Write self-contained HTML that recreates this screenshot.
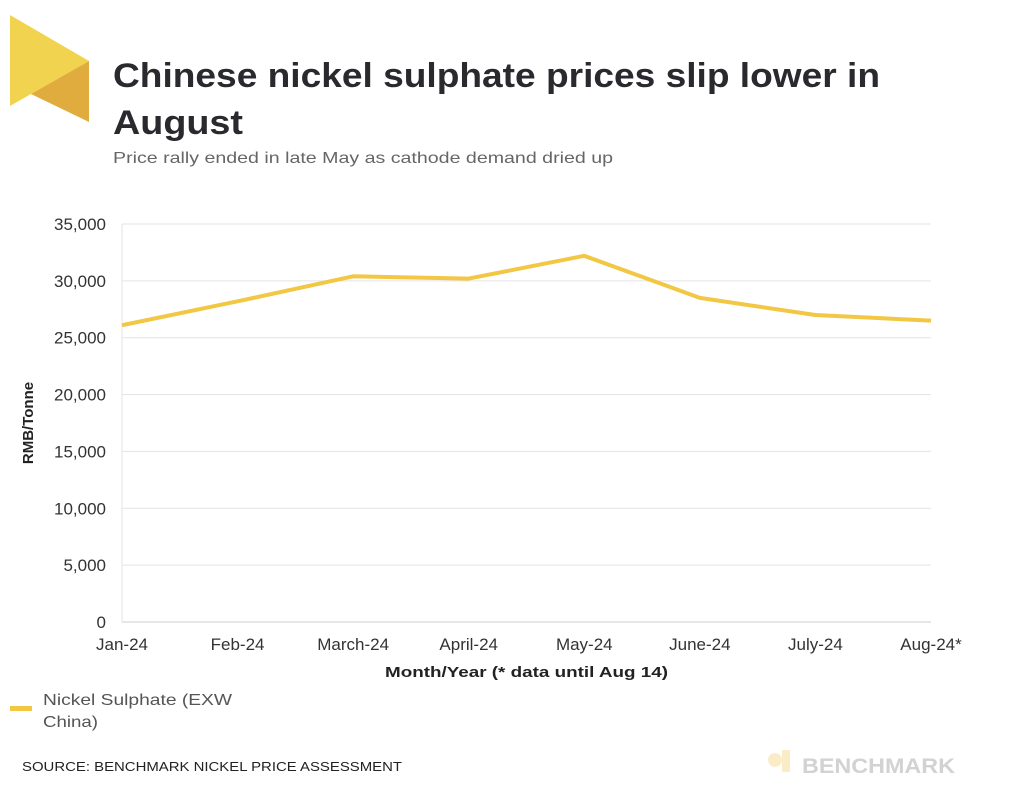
<!DOCTYPE html>
<html><head><meta charset="utf-8"><style>
body{margin:0;background:#fff;width:1024px;height:804px;overflow:hidden;font-family:"Liberation Sans",sans-serif;}
</style></head><body>
<svg width="1024" height="804">
<g>
<polygon points="10,15 89,61 10,106" fill="#f2d34f"/>
<polygon points="31,94 89,61 89,122" fill="#e0ac3e"/>
</g>
<text x="113" y="87" font-size="34" font-weight="bold" fill="#2a2a2e" textLength="767" lengthAdjust="spacingAndGlyphs">Chinese nickel sulphate prices slip lower in</text>
<text x="113" y="134" font-size="34" font-weight="bold" fill="#2a2a2e" textLength="130" lengthAdjust="spacingAndGlyphs">August</text>
<text x="113" y="163" font-size="16" fill="#666" textLength="500" lengthAdjust="spacingAndGlyphs">Price rally ended in late May as cathode demand dried up</text>
<g id="grid"></g>
<g id="yticks"></g>
<g id="xticks"></g>
<path id="line" fill="none" stroke="#f2c744" stroke-width="4" stroke-linejoin="round"/>
<text x="385" y="677" font-size="15" font-weight="bold" fill="#222" textLength="283" lengthAdjust="spacingAndGlyphs">Month/Year (* data until Aug 14)</text>
<text transform="translate(33,423) rotate(-90)" font-size="15" font-weight="bold" fill="#222" text-anchor="middle">RMB/Tonne</text>
<g>
<rect x="10" y="706" width="22" height="5" fill="#f2c744"/>
<text x="43" y="705" font-size="16" fill="#555" textLength="189" lengthAdjust="spacingAndGlyphs">Nickel Sulphate (EXW</text>
<text x="43" y="727" font-size="16" fill="#555" textLength="55" lengthAdjust="spacingAndGlyphs">China)</text>
</g>
<text x="22" y="771" font-size="13" fill="#222" textLength="380" lengthAdjust="spacingAndGlyphs">SOURCE: BENCHMARK NICKEL PRICE ASSESSMENT</text>
<g>
<circle cx="775" cy="760" r="7" fill="#fbecc8"/><rect x="782" y="750" width="8" height="22" fill="#fbecc8"/>
<text x="802" y="773" font-size="21" font-weight="bold" fill="#d2d2d2" textLength="153" lengthAdjust="spacingAndGlyphs">BENCHMARK</text>
</g>
</svg>
<script>
const categories=["Jan-24","Feb-24","March-24","April-24","May-24","June-24","July-24","Aug-24*"];
const values=[26100,28200,30400,30200,32200,28500,27000,26500];
const yTicks=[0,5000,10000,15000,20000,25000,30000,35000];
const x0=122,x1=931,yb=622,yt=224,ymax=35000;
const X=i=>x0+i*(x1-x0)/(categories.length-1);
const Y=v=>yb-v/ymax*(yb-yt);
const NS="http://www.w3.org/2000/svg";
const g=document.getElementById('grid'),yt_=document.getElementById('yticks'),xt=document.getElementById('xticks');
yTicks.forEach(v=>{
 const l=document.createElementNS(NS,'line');
 l.setAttribute('x1',x0);l.setAttribute('x2',x1);l.setAttribute('y1',Y(v));l.setAttribute('y2',Y(v));
 l.setAttribute('stroke',v===0?'#ccc':'#e3e3e3');
 
 
 g.appendChild(l);
 const t=document.createElementNS(NS,'text');
 t.setAttribute('x',106);t.setAttribute('y',Y(v)+6);t.setAttribute('text-anchor','end');
 t.setAttribute('font-size','17');t.setAttribute('fill','#333');
 t.textContent=v.toLocaleString('en-US');
 
 
 yt_.appendChild(t);
});
const v=document.createElementNS(NS,'line');
v.setAttribute('x1',x0);v.setAttribute('x2',x0);v.setAttribute('y1',yt);v.setAttribute('y2',yb);v.setAttribute('stroke','#e3e3e3');
g.appendChild(v);
categories.forEach((c,i)=>{
 const t=document.createElementNS(NS,'text');
 t.setAttribute('x',X(i));t.setAttribute('y',650);t.setAttribute('text-anchor','middle');
 t.setAttribute('font-size','17');t.setAttribute('fill','#333');
 t.textContent=c;
 
 
 xt.appendChild(t);
});
document.getElementById('line').setAttribute('d',values.map((v,i)=>(i?'L':'M')+X(i)+','+Y(v)).join(''));
</script>
</body></html>
